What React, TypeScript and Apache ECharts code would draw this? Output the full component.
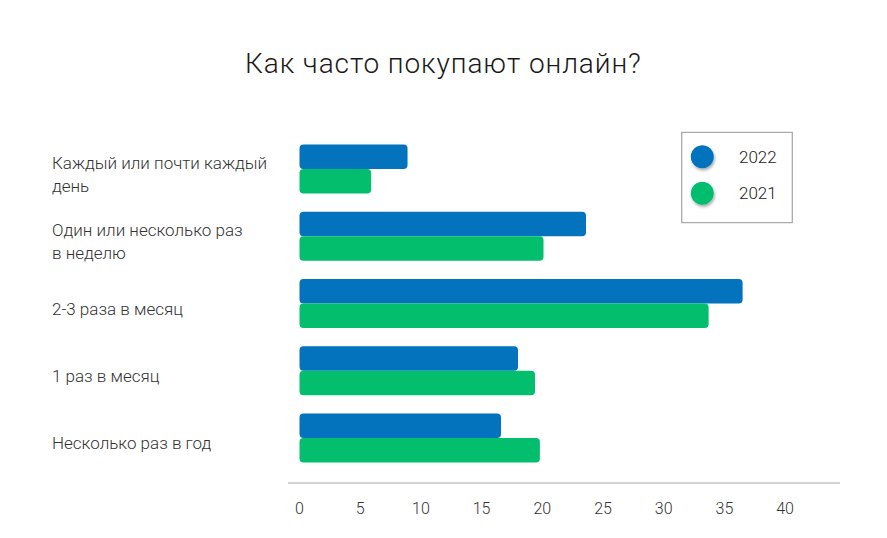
import React, { useEffect, useRef } from "react";
import * as echarts from "echarts";

const categories = [
  "Каждый или почти каждый\nдень",
  "Один или несколько раз\nв неделю",
  "2-3 раза в месяц",
  "1 раз в месяц",
  "Несколько раз в год",
];
const values2022 = [8.9, 23.6, 36.5, 18.0, 16.6];
const values2021 = [5.9, 20.1, 33.7, 19.4, 19.8];
const seriesNames = ["2022", "2021"];
const colors = ["#0273BC", "#03BE6D"];
const titleText = "Как часто покупают онлайн?";

const FONT = "Roboto, 'Noto Sans', sans-serif";

export default function App() {
  const ref = useRef<HTMLDivElement>(null);

  useEffect(() => {
    document.body.style.margin = "0";
    if (!ref.current) return;
    const chart = echarts.init(ref.current, undefined, { renderer: "svg" });
    chart.setOption({
      animation: false,
      backgroundColor: "#ffffff",
      title: {
        text: titleText,
        left: 245,
        top: 47,
        padding: 0,
        textStyle: {
          fontFamily: FONT,
          fontWeight: 300,
          fontSize: 28,
          lineHeight: 32,
          color: "#1a1a1a",
        },
      },
      legend: {
        data: seriesNames,
        orient: "vertical",
        left: 690.8,
        top: 145.2,
        padding: 0,
        icon: "circle",
        itemWidth: 63.4,
        itemHeight: 23,
        itemGap: 13.6,
        itemStyle: {
          shadowBlur: 3,
          shadowColor: "rgba(0,0,0,0.35)",
          shadowOffsetX: 1,
          shadowOffsetY: 2,
        },
        textStyle: {
          fontFamily: FONT,
          fontWeight: 300,
          fontSize: 17,
          color: "#222",
        },
        selectedMode: false,
      },
      grid: {
        left: 299.5,
        right: 101.9,
        top: 135.4,
        bottom: 66.4,
        containLabel: false,
      },
      xAxis: {
        type: "value",
        min: 0,
        max: 40,
        interval: 5,
        axisLine: { show: false },
        axisTick: { show: false },
        splitLine: { show: false },
        axisLabel: {
          margin: 29,
          fontFamily: FONT,
          fontWeight: 300,
          fontSize: 16,
          color: "#333",
        },
      },
      yAxis: {
        type: "category",
        inverse: true,
        data: categories,
        axisLine: { show: false },
        axisTick: { show: false },
        axisLabel: {
          align: "left",
          margin: 247.5,
          // a short empty first line nudges each label slightly below its band centre
          formatter: (v: string) =>
            "{p|}\n" +
            v
              .split("\n")
              .map((l) => "{a|" + l + "}")
              .join("\n"),
          rich: {
            p: { height: 10, lineHeight: 10, fontSize: 1 },
            a: {
              fontFamily: FONT,
              fontWeight: 300,
              fontSize: 17,
              lineHeight: 23,
              color: "#333",
            },
          },
        },
      },
      series: [
        {
          name: seriesNames[0],
          type: "bar",
          data: values2022,
          barWidth: 24.5,
          barGap: "0%",
          itemStyle: { color: colors[0], borderRadius: 4 },
        },
        {
          name: seriesNames[1],
          type: "bar",
          data: values2021,
          barWidth: 24.5,
          barGap: "0%",
          itemStyle: { color: colors[1], borderRadius: 4 },
        },
      ],
      graphic: [
        {
          type: "line",
          shape: { x1: 288, y1: 483, x2: 840, y2: 483 },
          style: { stroke: "#a6a6a6", lineWidth: 1 },
          silent: true,
        },
        {
          type: "rect",
          shape: { x: 681.7, y: 132.3, width: 110.6, height: 90.4 },
          style: { fill: "none", stroke: "#ababab", lineWidth: 1.3 },
          silent: true,
        },
      ],
    });

    // the heading is set with slight tracking
    ref.current.querySelectorAll("text").forEach((t) => {
      if (t.textContent === titleText) {
        t.setAttribute("letter-spacing", "0.9");
      }
    });

    return () => chart.dispose();
  }, []);

  return <div ref={ref} style={{ width: 887, height: 538 }} />;
}
